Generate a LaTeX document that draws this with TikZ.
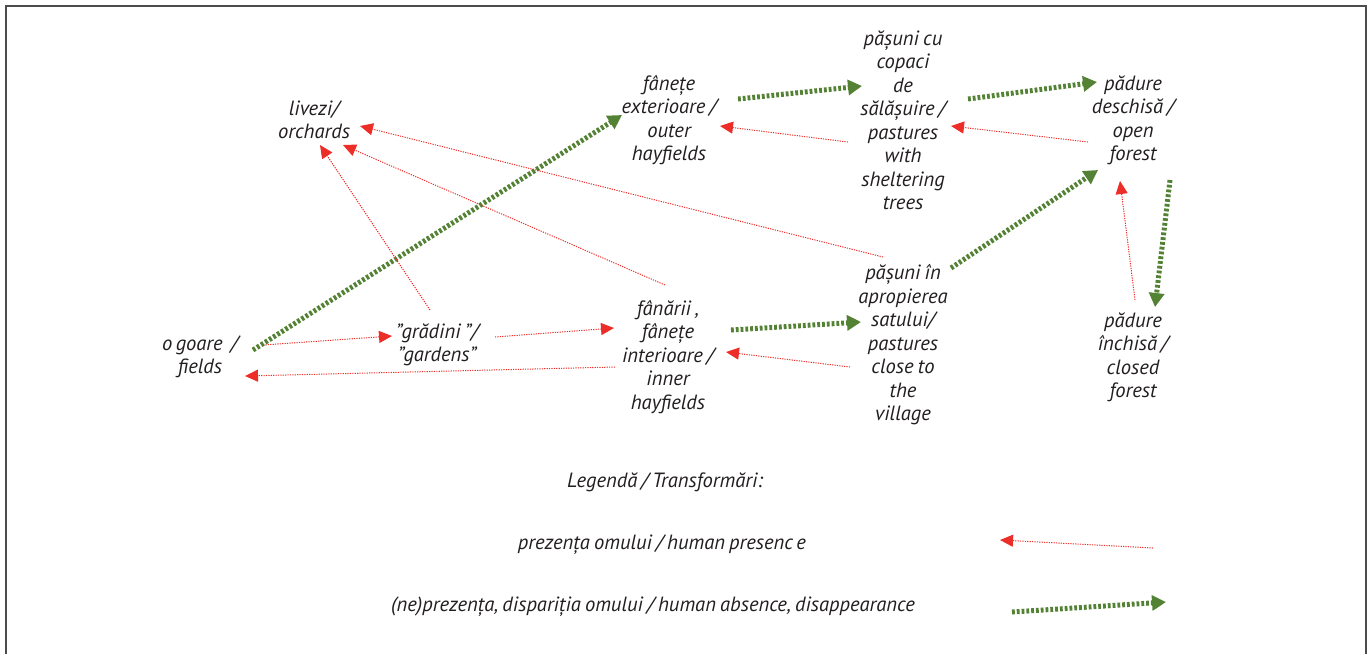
\documentclass[tikz,border=0pt]{standalone}
\usepackage{fontspec}
\setmainfont{PT Sans}
\usepackage{tikz}
\usetikzlibrary{arrows.meta}

\definecolor{leafgreen}{RGB}{84,130,53}
\definecolor{markred}{RGB}{237,45,40}
\definecolor{textgray}{RGB}{35,31,32}
\newcommand{\labelfont}{\fontsize{10.3}{11.75}\selectfont\itshape\spaceskip 0.2em\relax}

\begin{document}
\begin{tikzpicture}[x={0.5pt}, y={-0.5pt},
    every node/.style={align=center, text=textgray, inner sep=0pt, font=\labelfont},
    absence/.style={leafgreen, line width=2.5pt, dash pattern=on 1.4pt off 1pt,
        -{Triangle[length=7pt,width=7.5pt]}},
    presence/.style={markred, line width=0.5pt, dash pattern=on 0.6pt off 0.6pt,
        -{Triangle[length=6.5pt,width=6pt]}},
    frame/.style={draw=black!70, line width=1pt}]
    \useasboundingbox (0,0) rectangle (1368,654);
    \draw[frame] (6,654) -- (6,6) -- (1366,6) -- (1366,654);

    \node (liv) at (314,120) {livezi/\\orchards};
    \node (fext) at (669,120) {fânețe\\exterioare /\\outer\\hayfields};
    \node (pcop) at (903,120) {pășuni cu\\copaci\\de\\sălășuire /\\pastures\\with\\sheltering\\trees};
    \node (pdes) at (1133,120) {pădure\\deschisă /\\open\\forest};
    \node (ogo) at (200,357) {o\,goare \ /\\fields};
    \node (gra) at (437,345) {”grădini ”/\\”gardens”};
    \node (fin) at (668,357) {fânării ,\\fânețe\\interioare /\\inner\\hayfields};
    \node (pap) at (903,345) {pășuni în\\apropierea\\satului/\\pastures\\close to\\the\\village};
    \node (pinc) at (1133,357) {pădure\\închisă /\\closed\\forest};

    \node (leg) at (665,482) {Legendă / Transformări:};
    \node (hp) at (662,545) {prezența omului / human presenc\,e};
    \node (ha) at (653,607) {(ne)prezența, dispariția omului / human absence, disappearance};
    \coordinate (hp1) at (1153,548);
    \coordinate (hp2) at (1000,540);
    \coordinate (ha1) at (1012,612);
    \coordinate (ha2) at (1166,602);

    \draw[absence] ([shift={(53,-7)}]ogo.center) -- ([shift={(-47,-5)}]fext.center);
    \draw[absence] ([shift={(69,-21)}]fext.center) -- ([shift={(-41,-34)}]pcop.center);
    \draw[absence] ([shift={(65,-21)}]pcop.center) -- ([shift={(-36,-38)}]pdes.center);
    \draw[absence] ([shift={(63,-27)}]fin.center) -- ([shift={(-42,-23)}]pap.center);
    \draw[absence] ([shift={(48,-77)}]pap.center) -- ([shift={(-35,50)}]pdes.center);
    \draw[absence] ([shift={(37,60)}]pdes.center) -- ([shift={(22,-50)}]pinc.center);

    \draw[presence] ([shift={(63,-12)}]ogo.center) -- ([shift={(-45,-9)}]gra.center);
    \draw[presence] ([shift={(58,-8)}]gra.center) -- ([shift={(-54,-29)}]fin.center);
    \draw[presence] ([shift={(-7,-35)}]gra.center) -- ([shift={(6,25)}]liv.center);
    \draw[presence] ([shift={(-3,-72)}]fin.center) -- ([shift={(29,25)}]liv.center);
    \draw[presence] ([shift={(-20,-88)}]pap.center) -- ([shift={(46,6)}]liv.center);
    \draw[presence] ([shift={(-53,10)}]fin.center) -- ([shift={(45,19)}]ogo.center);
    \draw[presence] ([shift={(-53,22)}]pap.center) -- ([shift={(58,-5)}]fin.center);
    \draw[presence] ([shift={(-55,22)}]pcop.center) -- ([shift={(51,6)}]fext.center);
    \draw[presence] ([shift={(-45,22)}]pdes.center) -- ([shift={(48,6)}]pcop.center);
    \draw[presence] ([shift={(2,-57)}]pinc.center) -- ([shift={(-13,61)}]pdes.center);

    \draw[presence] (hp1) -- (hp2);
    \draw[absence] (ha1) -- (ha2);
\end{tikzpicture}
\end{document}
